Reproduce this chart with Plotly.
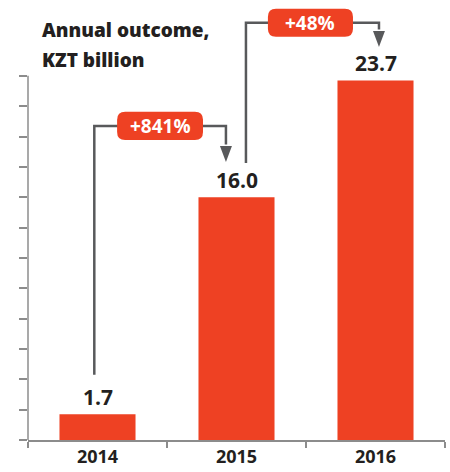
import plotly.graph_objects as go

# ---- data ----
years = ["2014", "2015", "2016"]
values = [1.7, 16.0, 23.7]
growth_labels = ["+841%", "+48%"]
title_lines = ["Annual outcome,", "KZT billion"]
y_tick_values = list(range(0, 25, 2))

# ---- style ----
RED = "#EE4123"
DARK = "#231F20"
ARROW = "#58595B"
AXIS = "#8C8C8C"
FONT = "Open Sans"
Y_TOP = 29.0          # axis range top (leaves room for annotations)
Y_AXIS_END = 24       # visible left axis line end

fig = go.Figure(
    go.Bar(
        x=years, y=values, width=0.547,
        marker=dict(color=RED, line=dict(width=0)),
        hoverinfo="skip",
    )
)

shapes = []
annotations = []

# left axis line (visible part)
shapes.append(dict(type="line", xref="paper", yref="y", x0=0, x1=0, y0=0, y1=Y_AXIS_END,
                   line=dict(color=AXIS, width=1.5), layer="above"))

# value labels
for i, v in enumerate(values):
    annotations.append(dict(x=i, y=v, xref="x", yref="y", text=f"{v:.1f}", showarrow=False,
                            xanchor="center", yanchor="middle", yshift=17,
                            font=dict(family=FONT, size=21, color=DARK, weight="bold")))


def rrect(cx, cy, hw, hh, rx, ry):
    return (f"M {cx-hw+rx},{cy-hh} L {cx+hw-rx},{cy-hh} Q {cx+hw},{cy-hh} {cx+hw},{cy-hh+ry} "
            f"L {cx+hw},{cy+hh-ry} Q {cx+hw},{cy+hh} {cx+hw-rx},{cy+hh} "
            f"L {cx-hw+rx},{cy+hh} Q {cx-hw},{cy+hh} {cx-hw},{cy+hh-ry} "
            f"L {cx-hw},{cy-hh+ry} Q {cx-hw},{cy-hh} {cx-hw+rx},{cy-hh} Z")


# growth arrows
arrows = [
    dict(i=0, sx=-0.023, sgap=2.6, level=20.7, tx=-0.076, tgap=2.33, cx=0.45, hw=0.309),
    dict(i=1, sx=0.068, sgap=2.26, level=27.5, tx=0.025, tgap=2.2, cx=1.532, hw=0.306),
]
HEAD_LEN = 1.05
HEAD_HW = 0.043
for a, lab in zip(arrows, growth_labels):
    i = a["i"]
    x0 = i + a["sx"]
    y0 = values[i] + a["sgap"]
    x1 = i + 1 + a["tx"]
    ytip = values[i + 1] + a["tgap"]
    ybase = ytip + HEAD_LEN
    shapes.append(dict(type="path", xref="x", yref="y",
                       path=f"M {x0},{y0} V {a['level']} H {x1} V {ybase + 0.1}",
                       line=dict(color=ARROW, width=2.5), layer="above"))
    shapes.append(dict(type="path", xref="x", yref="y",
                       path=f"M {x1-HEAD_HW},{ybase} L {x1+HEAD_HW},{ybase} L {x1},{ytip} Z",
                       fillcolor=ARROW, line=dict(width=0), layer="above"))
    shapes.append(dict(type="path", xref="x", yref="y",
                       path=rrect(a["cx"], a["level"], a["hw"], 0.93, 0.058, 0.53),
                       fillcolor=RED, line=dict(width=0), layer="above"))
    annotations.append(dict(x=a["cx"], y=a["level"], xref="x", yref="y", text=lab, showarrow=False,
                            xanchor="center", yanchor="middle",
                            font=dict(family=FONT, size=19, color="white", weight="bold")))

# title
for k, line in enumerate(title_lines):
    annotations.append(dict(x=0.029, y=27.0 - 1.98 * k, xref="paper", yref="y", text=line,
                            showarrow=False, xanchor="left", yanchor="middle",
                            font=dict(family=FONT, size=19, color=DARK, weight=800)))

fig.update_layout(
    width=450, height=472,
    margin=dict(l=28, r=5, t=0, b=32),
    paper_bgcolor="white", plot_bgcolor="white",
    showlegend=False,
    shapes=shapes, annotations=annotations,
    xaxis=dict(type="category", range=[-0.5, 2.5], showline=True, linecolor=AXIS, linewidth=1.5,
               ticks="outside", tickson="boundaries", ticklen=6, tickwidth=1.5, tickcolor=AXIS,
               showgrid=False, zeroline=False, fixedrange=True,
               tickfont=dict(family=FONT, size=18, color=DARK, weight="bold")),
    yaxis=dict(range=[0, Y_TOP], tickvals=y_tick_values, ticks="outside", ticklen=8, tickwidth=1.5,
               tickcolor=AXIS, showticklabels=False, showgrid=False, zeroline=False, showline=False,
               fixedrange=True),
)

fig.write_html("out.html")
